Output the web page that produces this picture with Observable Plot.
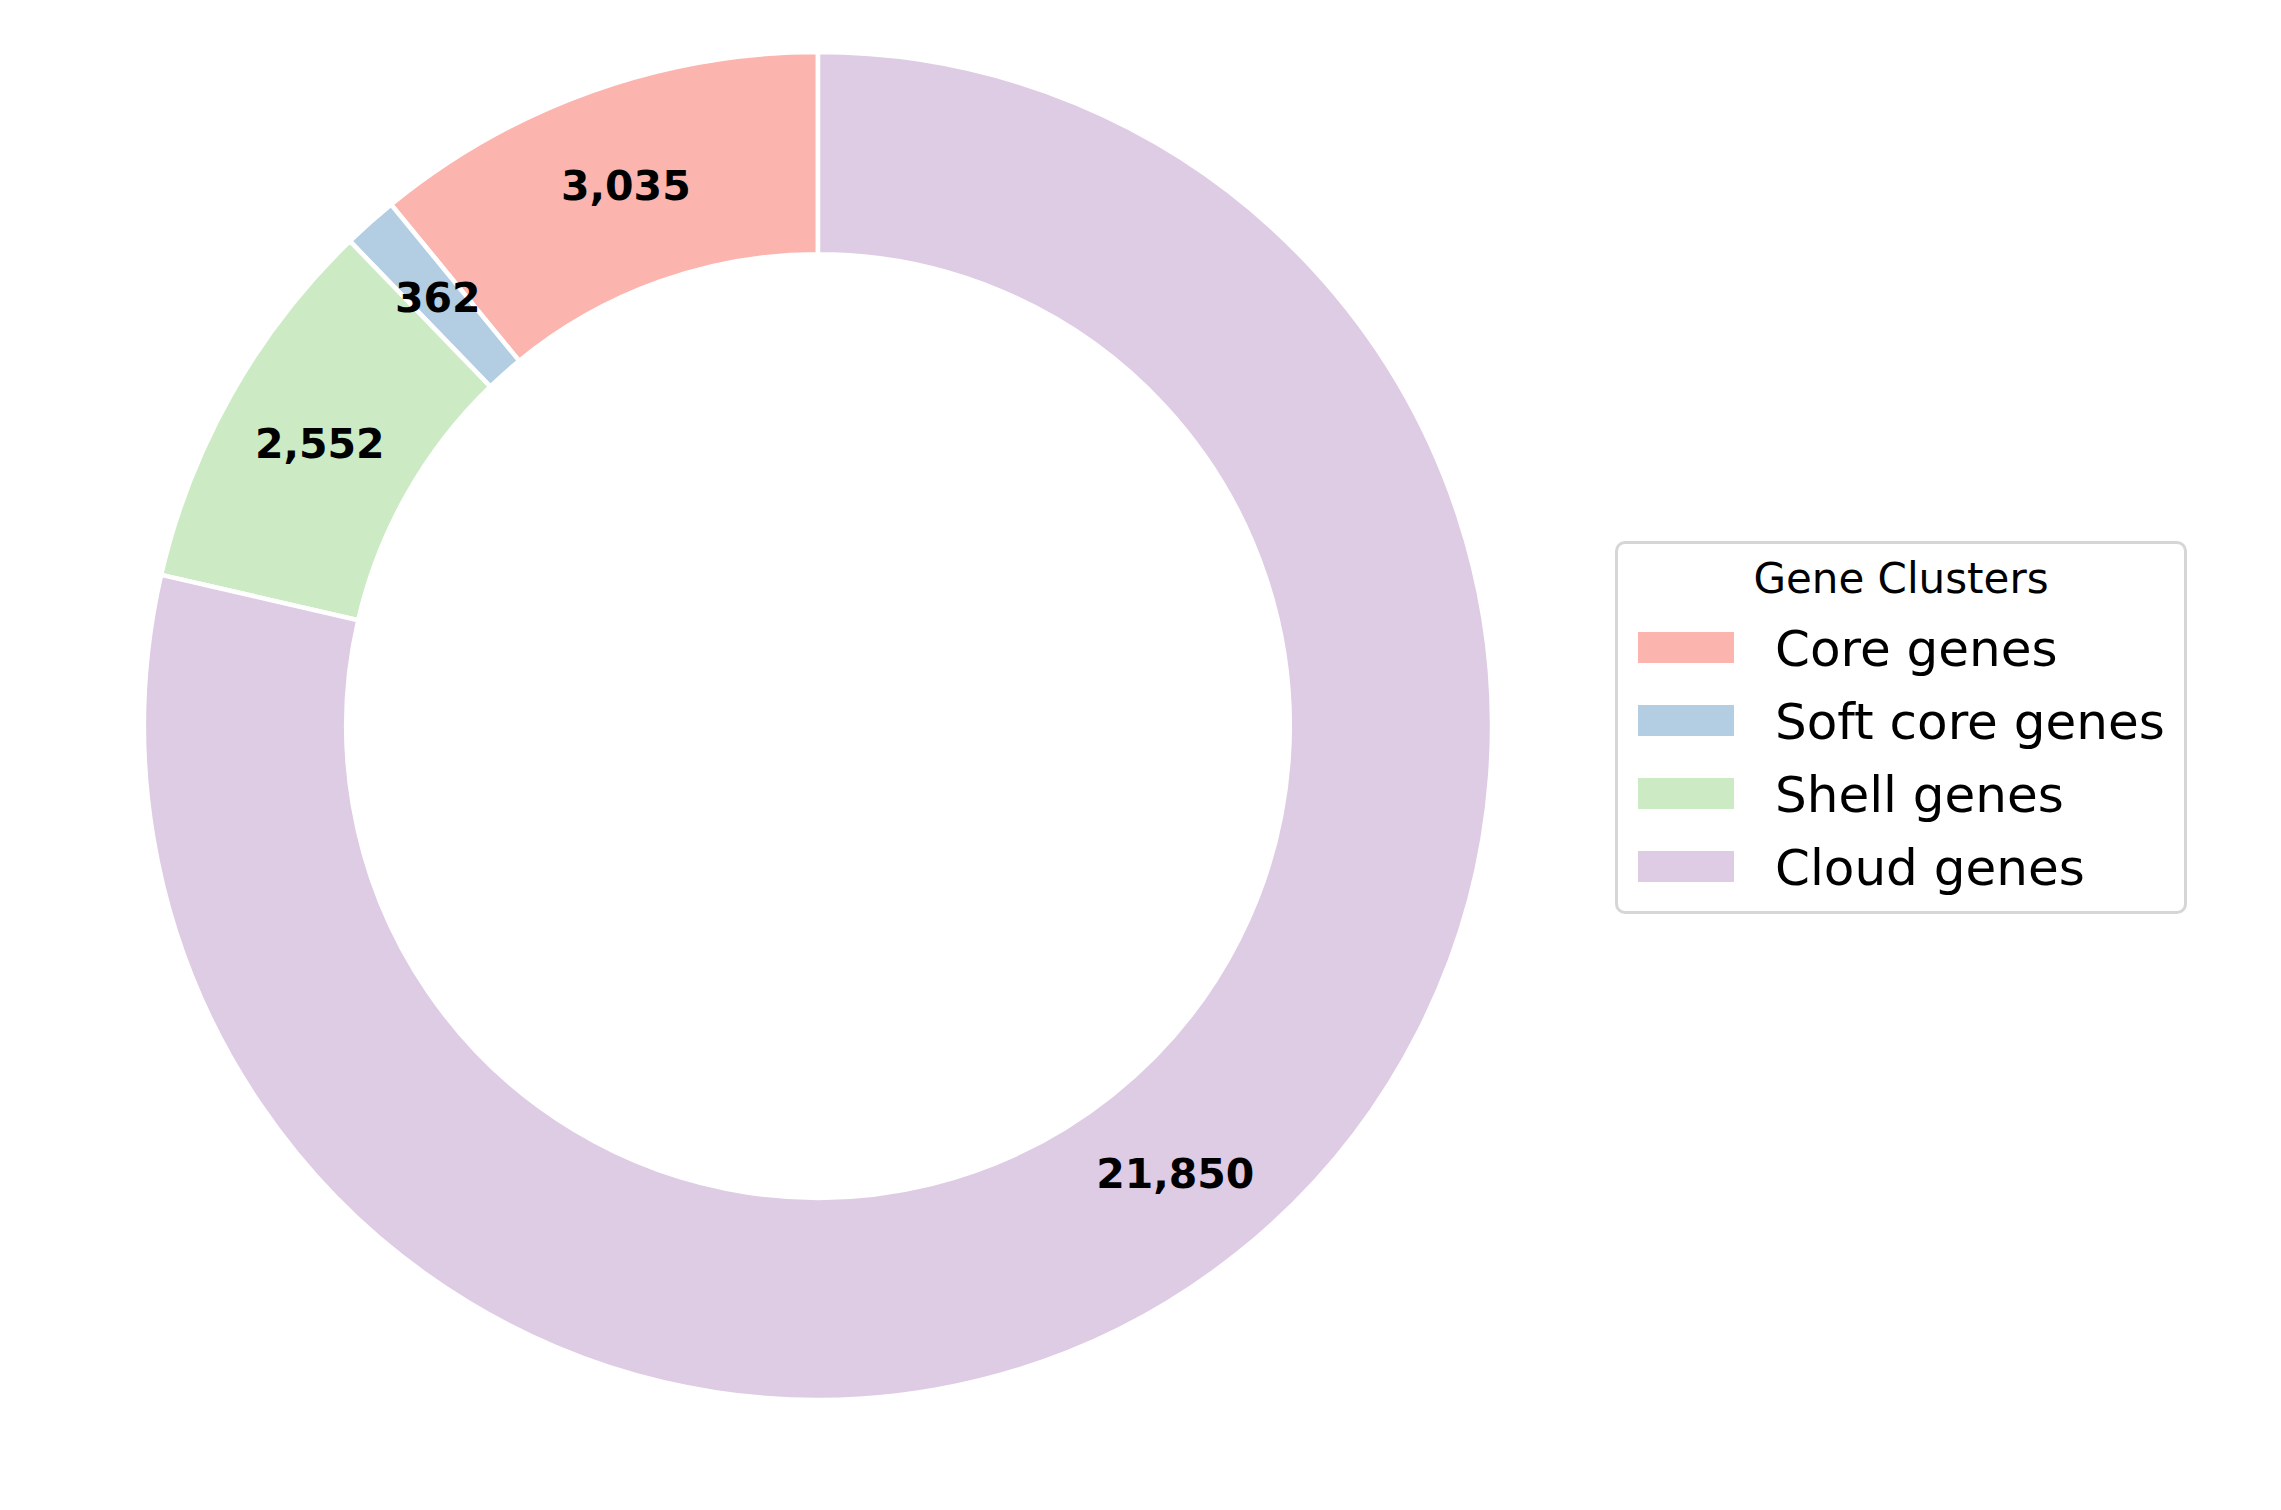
<!DOCTYPE html>
<html><head><meta charset="utf-8">
<script src="https://cdn.jsdelivr.net/npm/d3@7"></script>
<script src="https://cdn.jsdelivr.net/npm/@observablehq/plot@0.6"></script>
<style>
body{margin:0;background:#fff;font-family:"DejaVu Sans",sans-serif;}
#wrap{position:relative;width:2281px;height:1510px;overflow:hidden;}
.lg{position:absolute;}
#lgbox{left:1615px;top:541px;width:572px;height:373px;box-sizing:border-box;border:3px solid #d6d6d6;border-radius:10px;background:#fff;}
#lgtitle{left:1615px;width:572px;top:554px;height:49px;line-height:49px;text-align:center;font-size:42px;color:#000;white-space:nowrap;}
.sw{left:1638px;width:96px;height:31px;}
.lab{left:1775px;height:58px;line-height:58px;font-size:50px;color:#000;white-space:nowrap;}
</style></head><body><div id="wrap"></div>
<script>
const categories = ["Core genes", "Soft core genes", "Shell genes", "Cloud genes"];
const values = [3035, 362, 2552, 21850];
const colors = ["#fbb4ae", "#b3cde3", "#ccebc5", "#decbe4"];
const legendTitle = "Gene Clusters";

const W = 2281, H = 1510, CX = 818, CY = 726, R = 674, RIN = 0.7 * R, LABEL_R = 0.85 * R;
const color = Plot.scale({color: {type: "ordinal", domain: categories, range: colors}});
const data = categories.map((c, i) => ({category: c, value: values[i]}));
const arcs = d3.pie().value(d => d.value).sort(null).startAngle(0).endAngle(-2 * Math.PI)(data);
const slices = arcs.map(a => {
  const mid = (a.startAngle + a.endAngle) / 2;
  return {category: a.data.category, value: a.data.value, startAngle: a.startAngle, endAngle: a.endAngle,
    lx: LABEL_R * Math.sin(mid), ly: -LABEL_R * Math.cos(mid)};
});

function donut(index, scales, vals, dims, context) {
  const cx = scales.x(0), cy = scales.y(0);
  const outer = scales.x(R) - cx, inner = scales.x(RIN) - cx;
  const arc = d3.arc().innerRadius(inner).outerRadius(outer);
  const g = d3.create("svg:g").attr("transform", `translate(${cx},${cy})`);
  g.selectAll("path").data(slices).join("path")
    .attr("d", d => arc(d))
    .attr("fill", d => color.apply(d.category))
    .attr("stroke", "white").attr("stroke-width", 4.5).attr("stroke-linejoin", "round");
  return g.node();
}

const chart = Plot.plot({
  width: W, height: H, margin: 0,
  x: {domain: [-CX, W - CX], range: [0, W], axis: null},
  y: {domain: [-CY, H - CY], range: [0, H], axis: null},
  style: {background: "white"},
  marks: [
    donut,
    Plot.text(slices, {x: "lx", y: "ly", text: d => d3.format(",")(d.value), fontSize: 41, fontWeight: "bold", fill: "black", fontFamily: "DejaVu Sans"})
  ]
});
const wrap = document.getElementById("wrap");
wrap.appendChild(chart);

function el(id, cls, css, text) {
  const e = document.createElement("div");
  if (id) e.id = id;
  e.className = "lg" + (cls ? " " + cls : "");
  Object.assign(e.style, css || {});
  if (text) e.textContent = text;
  wrap.appendChild(e);
  return e;
}
el("lgbox");
el("lgtitle", "", {}, legendTitle);
categories.forEach((c, i) => {
  const center = 647 + i * 73;
  el(null, "sw", {top: (center - 15.5) + "px", background: color.apply(c)});
  el(null, "lab", {top: (center - 27) + "px"}, c);
});
</script></body></html>
